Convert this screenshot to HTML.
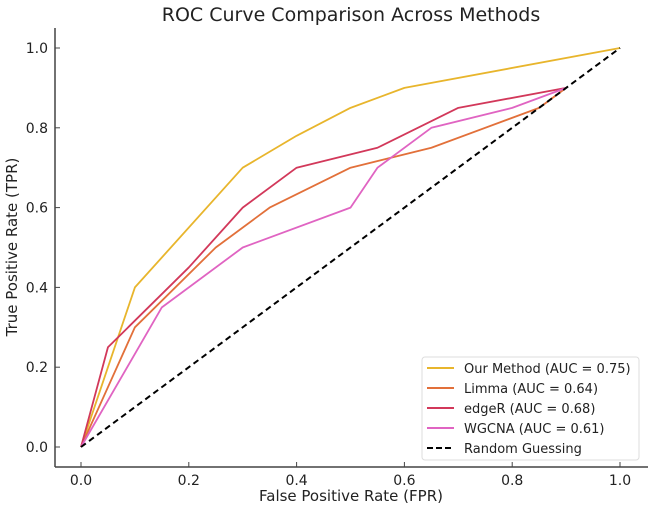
<!DOCTYPE html>
<html><head><meta charset="utf-8"><style>
body{margin:0;background:#fff;}
svg{display:block;font-family:"DejaVu Sans","Liberation Sans",sans-serif;}
</style></head><body>
<svg id="chart" width="650" height="511" viewBox="0 0 650 511">
<text x="351" y="21" text-anchor="middle" font-size="19" fill="#222">ROC Curve Comparison Across Methods</text>
<g id="plot"></g>
<text x="351" y="501" text-anchor="middle" font-size="15" fill="#222">False Positive Rate (FPR)</text>
<text transform="translate(17,247) rotate(-90)" text-anchor="middle" font-size="15" fill="#222">True Positive Rate (TPR)</text>
</svg>
<script>
const xTicks=[0,0.2,0.4,0.6,0.8,1.0];
const yTicks=[0,0.2,0.4,0.6,0.8,1.0];
const ourX=[0,0.1,0.3,0.4,0.5,0.6,1.0];
const ourY=[0,0.4,0.7,0.78,0.85,0.9,1.0];
const limmaX=[0,0.1,0.25,0.35,0.5,0.65,0.85,0.9];
const limmaY=[0,0.3,0.5,0.6,0.7,0.75,0.85,0.9];
const edgeRX=[0,0.05,0.2,0.3,0.4,0.55,0.7,0.9];
const edgeRY=[0,0.25,0.45,0.6,0.7,0.75,0.85,0.9];
const wgcnaX=[0,0.15,0.3,0.5,0.55,0.65,0.8,0.9];
const wgcnaY=[0,0.35,0.5,0.6,0.7,0.8,0.85,0.9];
const randX=[0,1];
const randY=[0,1];
const labels=["Our Method (AUC = 0.75)","Limma (AUC = 0.64)","edgeR (AUC = 0.68)","WGCNA (AUC = 0.61)","Random Guessing"];

const NS="http://www.w3.org/2000/svg";
const g=document.getElementById('plot');
const sx=v=>81+539*v;
const sy=v=>447-399*v;
function mk(t,a,p){const e=document.createElementNS(NS,t);for(const k in a)e.setAttribute(k,a[k]);(p||g).appendChild(e);return e;}
// spines
let sp=mk('line',{x1:55,y1:28,x2:55,y2:467,stroke:'#444','stroke-width':1.5});


sp=mk('line',{x1:55,y1:467,x2:648,y2:467,stroke:'#444','stroke-width':1.5});


xTicks.forEach(v=>{
  const t=mk('line',{x1:sx(v),y1:467,x2:sx(v),y2:462,stroke:'#444','stroke-width':1});
  
  
  const l=mk('text',{x:sx(v),y:485,'text-anchor':'middle','font-size':14,fill:'#222'});
  l.textContent=v.toFixed(1);
  
  
});
yTicks.forEach(v=>{
  const t=mk('line',{x1:55,y1:sy(v),x2:60,y2:sy(v),stroke:'#444','stroke-width':1});
  
  
  const l=mk('text',{x:48,y:sy(v)+5,'text-anchor':'end','font-size':14,fill:'#222'});
  l.textContent=v.toFixed(1);
  
  
});
const series=[
 {x:ourX,y:ourY,c:'#e8b52c',n:'our-method-line'},
 {x:limmaX,y:limmaY,c:'#e2703a',n:'limma-line'},
 {x:edgeRX,y:edgeRY,c:'#d2385a',n:'edger-line'},
 {x:wgcnaX,y:wgcnaY,c:'#e064c2',n:'wgcna-line'},
 {x:randX,y:randY,c:'#000',n:'random-guessing-line',d:'6,4'}
];
series.forEach(s=>{
  const pts=s.x.map((v,i)=>sx(v)+','+sy(s.y[i])).join(' ');
  const a={points:pts,fill:'none',stroke:s.c,'stroke-width':s.d?2:1.8,'stroke-linejoin':'round'};
  if(s.d)a['stroke-dasharray']=s.d;
  const p=mk('polyline',a);
  
  
});
const lg=mk('g',{});


mk('rect',{x:422,y:357,width:217,height:103,rx:3,fill:'#fff',stroke:'#ddd','stroke-width':1},lg);
series.forEach((s,i)=>{
  const y=368+20*i;
  const a={x1:427,y1:y,x2:454,y2:y,stroke:s.c,'stroke-width':2};
  if(s.d)a['stroke-dasharray']='6,3';
  const l=mk('line',a,lg);
  
  
  const t=mk('text',{x:464,y:y+5,'font-size':13,fill:'#222'},lg);
  t.textContent=labels[i];
  
  
});
</script>
</body></html>
